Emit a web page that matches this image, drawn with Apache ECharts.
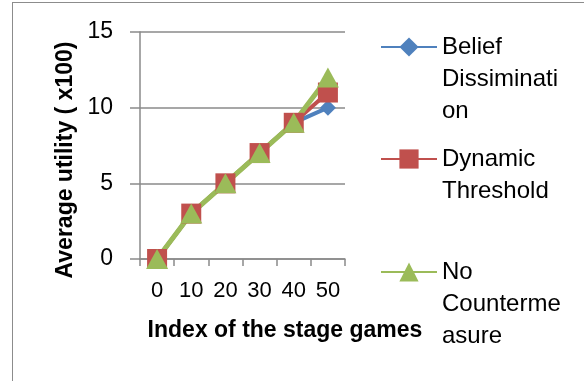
<!DOCTYPE html>
<html>
<head>
<meta charset="utf-8">
<script src="https://cdn.jsdelivr.net/npm/echarts@6/dist/echarts.min.js"></script>
<style>
  html, body { margin: 0; padding: 0; background: #fff; overflow: hidden; }
  #frame { position: absolute; left: 12px; top: 2px; width: 600px; height: 400px; border: 1px solid #8c8c8c; }
  #chart { position: absolute; left: 0; top: 0; width: 584px; height: 381px; }
</style>
</head>
<body>
<div id="frame"></div>
<div id="chart"></div>
<script>
// stage game index (categories)
const stages = ['0', '10', '20', '30', '40', '50']
// average utility (x100)
const beliefDissemination = [0, 3, 5, 7, 9, 10]
const dynamicThreshold = [0, 3, 5, 7, 9, 11]
const noCountermeasure = [0, 3, 5, 7, 9, 12]

const seriesNames = ['Belief Dissimination', 'Dynamic Threshold', 'No Countermeasure']
// legend text wraps like the original
const legendLabels = ['Belief\nDissiminati\non', 'Dynamic\nThreshold', 'No\nCounterme\nasure']
const colors = ['#4F81BD', '#C0504D', '#9BBB59']

const font = 'Liberation Sans'
const gray = '#8a8a8a'
const lineH = 32

function legendFor(i, top) {
  return {
    data: [seriesNames[i]],
    left: 380,
    top: top,
    padding: 0,
    itemWidth: 56,
    itemHeight: 24,
    itemGap: 0,
    formatter: function (name) {
      const text = legendLabels[seriesNames.indexOf(name)]
      // blank lines in front keep the marker on the first line of text
      const n = text.split('\n').length
      return '\n'.repeat(n - 1) + text
    },
    textStyle: {
      fontFamily: font,
      fontSize: 24,
      color: '#000',
      lineHeight: lineH
    }
  }
}

const chart = echarts.init(document.getElementById('chart'))

const option = {
  backgroundColor: 'transparent',
  animation: false,
  textStyle: { fontFamily: font },
  grid: { left: 140, right: 239, top: 32, bottom: 122 },
  legend: [
    legendFor(0, -33),
    legendFor(1, 111),
    legendFor(2, 192)
  ],
  xAxis: {
    type: 'category',
    data: stages,
    boundaryGap: true,
    name: 'Index of the stage games',
    nameLocation: 'middle',
    nameGap: 60,
    nameTextStyle: {
      fontFamily: font,
      fontWeight: 'bold',
      fontSize: 23,
      color: '#000',
      padding: [0, 0, 0, 85]
    },
    axisLine: { lineStyle: { color: gray, width: 1.5 } },
    axisTick: { show: true, length: 7, alignWithLabel: false, lineStyle: { color: gray, width: 1.5 } },
    axisLabel: { fontFamily: font, fontSize: 22, color: '#000', margin: 21 },
    splitLine: { show: false }
  },
  yAxis: {
    type: 'value',
    min: 0,
    max: 15,
    interval: 5,
    name: 'Average utility ( x100)',
    nameLocation: 'middle',
    nameGap: 63,
    nameTextStyle: {
      fontFamily: font,
      fontWeight: 'bold',
      fontSize: 23,
      color: '#000',
      padding: [0, 29, 0, 0]
    },
    axisLine: { show: true, lineStyle: { color: gray, width: 1.5 } },
    axisTick: { show: true, length: 10, lineStyle: { color: gray, width: 1.5 } },
    axisLabel: { fontFamily: font, fontSize: 23, color: '#000', margin: 27 },
    splitLine: { show: true, lineStyle: { color: gray, width: 1.5 } }
  },
  series: [
    {
      name: seriesNames[0],
      type: 'line',
      data: beliefDissemination,
      color: colors[0],
      symbol: 'diamond',
      symbolSize: 16,
      lineStyle: { width: 4 }
    },
    {
      name: seriesNames[1],
      type: 'line',
      data: dynamicThreshold,
      color: colors[1],
      symbol: 'rect',
      symbolSize: 20,
      lineStyle: { width: 4 }
    },
    {
      name: seriesNames[2],
      type: 'line',
      data: noCountermeasure,
      color: colors[2],
      symbol: 'triangle',
      symbolSize: [22, 20],
      lineStyle: { width: 5 }
    }
  ]
}

chart.setOption(option)
</script>
</body>
</html>
